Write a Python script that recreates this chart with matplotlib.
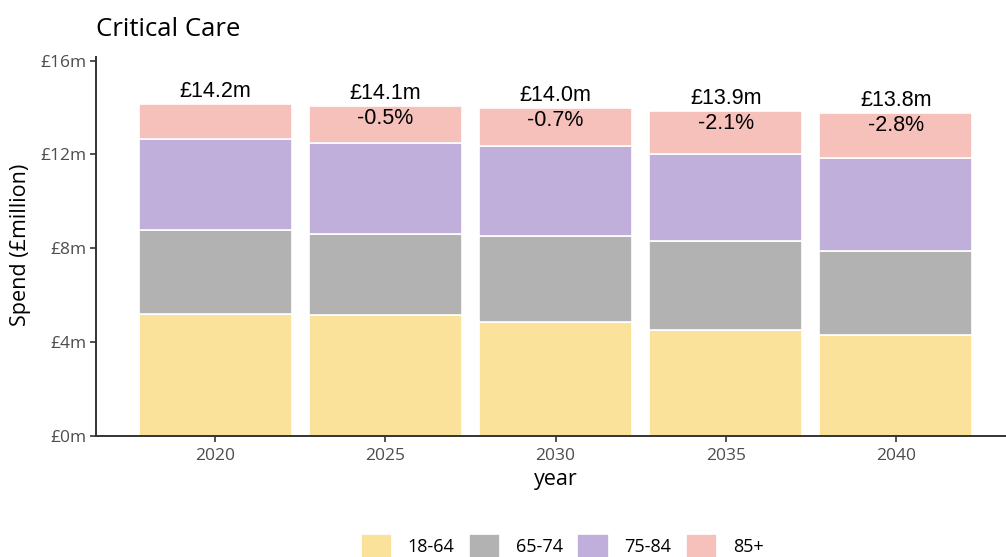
import numpy as np
import matplotlib
matplotlib.use("Agg")
import matplotlib.pyplot as plt

# spend by age band, £ million
years = ["2020", "2025", "2030", "2035", "2040"]
age_bands = ["18-64", "65-74", "75-84", "85+"]
spend_18_64 = [5.19, 5.15, 4.86, 4.51, 4.31]
spend_65_74 = [3.59, 3.44, 3.65, 3.78, 3.56]
spend_75_84 = [3.86, 3.91, 3.86, 3.74, 3.99]
spend_85_plus = [1.52, 1.58, 1.63, 1.83, 1.90]

total_labels = ["£14.2m", "£14.1m", "£14.0m", "£13.9m", "£13.8m"]
change_labels = ["", "-0.5%", "-0.7%", "-2.1%", "-2.8%"]

band_colours = ["#FBE29B", "#B2B2B2", "#C0AEDB", "#F6C1BB"]

plt.rcParams["font.family"] = ["Open Sans", "DejaVu Sans"]

fig = plt.figure(figsize=(10.06, 5.57), dpi=100)
ax = fig.add_axes([96 / 1006, 121.3 / 557, 919 / 1006, 379 / 557])

x = np.arange(len(years))
series = [spend_18_64, spend_65_74, spend_75_84, spend_85_plus]
bottom = np.zeros(len(years))
for band, values, colour in zip(age_bands, series, band_colours):
    ax.bar(x, values, width=0.9, bottom=bottom, color=colour,
           edgecolor="white", linewidth=1.2, label=band)
    bottom = bottom + np.array(values)

totals = bottom
for xi, tot, lab, chg in zip(x, totals, total_labels, change_labels):
    ax.annotate(lab, (xi, tot), xytext=(0, 9), textcoords="offset points",
                ha="center", va="center", fontsize=15.5,
                family="Liberation Sans", color="black")
    if chg:
        ax.annotate(chg, (xi, tot), xytext=(0, -9), textcoords="offset points",
                    ha="center", va="center", fontsize=15.5,
                    family="Liberation Sans", color="black")

ax.set_xlim(-0.7, 4.7)
ax.set_ylim(0, 16.17)
ax.set_xticks(x)
ax.set_xticklabels(years)
ax.set_yticks([0, 4, 8, 12, 16])
ax.set_yticklabels(["£0m", "£4m", "£8m", "£12m", "£16m"])

for side in ["top", "right"]:
    ax.spines[side].set_visible(False)
for side in ["left", "bottom"]:
    ax.spines[side].set_color("#333333")
    ax.spines[side].set_linewidth(1.4)

ax.tick_params(axis="both", colors="#333333", width=1.2, length=4.5,
               labelsize=12.5, labelcolor="#4D4D4D")
ax.tick_params(axis="y", pad=2)
ax.tick_params(axis="x", pad=4)

ax.set_xlabel("year", fontsize=15.5, color="black")
ax.xaxis.label.set_verticalalignment("center")
ax.xaxis.set_label_coords(0.5, -(480 - 435.7) / 379)

fig.text(21 / 1006, 1 - 245 / 557, "Spend (£million)", rotation=90,
         ha="center", va="center", fontsize=15.5, color="black")

fig.text(96 / 1006, 1 - 36 / 557, "Critical Care", ha="left", va="baseline",
         fontsize=18.5, color="black")

fig.legend(loc="center", bbox_to_anchor=(562 / 1006, 1 - 546 / 557), ncol=4,
           frameon=False, fontsize=13, handlelength=1.75, handleheight=1.75,
           handletextpad=0.85, columnspacing=0.8, borderpad=0)

fig.savefig("out.png", dpi=100)
